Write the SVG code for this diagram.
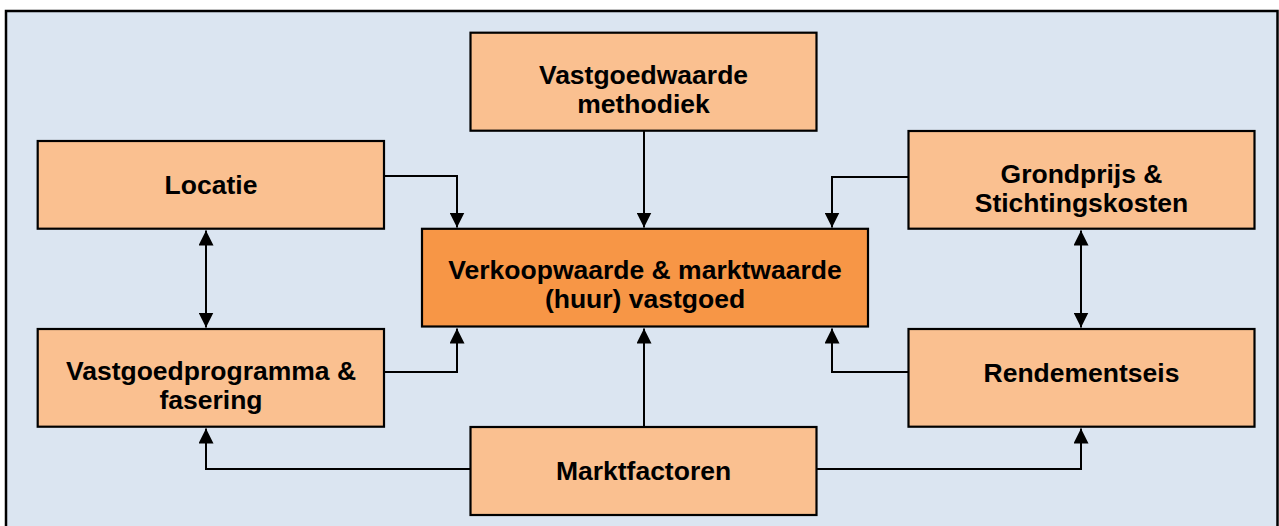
<svg xmlns="http://www.w3.org/2000/svg" width="1279" height="526" viewBox="0 0 1279 526">
<style>
.frame{fill:#DBE5F1;stroke:#000;stroke-width:2.5}
.box{fill:#FAC090;stroke:#000;stroke-width:2.2}
.main{fill:#F79646;stroke:#000;stroke-width:2.2}
.t{font-family:"Liberation Sans",Arial,sans-serif;font-weight:bold;font-size:26.5px;fill:#000;text-anchor:middle}
.c{fill:none;stroke:#000;stroke-width:2}
</style>
<defs>
<marker id="ah" markerUnits="userSpaceOnUse" markerWidth="15" markerHeight="15" refX="15" refY="7.5" orient="auto-start-reverse" viewBox="0 0 15 15">
<path d="M0,0 L15,7.5 L0,15 z" fill="#000"/>
</marker>
</defs>
<rect x="0" y="0" width="1279" height="526" fill="#fff"/>
<rect class="frame" x="6" y="11" width="1271.5" height="540"/>
<g id="connectors">
<path class="c" d="M384,176 H457 V227.5" marker-end="url(#ah)"/>
<path class="c" d="M644,131 V227.5" marker-end="url(#ah)"/>
<path class="c" d="M908,177 H832 V227.5" marker-end="url(#ah)"/>
<path class="c" d="M206,230.5 V327.5" marker-start="url(#ah)" marker-end="url(#ah)"/>
<path class="c" d="M1081,230.5 V327.5" marker-start="url(#ah)" marker-end="url(#ah)"/>
<path class="c" d="M384,372 H457 V328.5" marker-end="url(#ah)"/>
<path class="c" d="M908,372 H832 V328.5" marker-end="url(#ah)"/>
<path class="c" d="M644,427 V328.5" marker-end="url(#ah)"/>
<path class="c" d="M470,469 H206 V428.5" marker-end="url(#ah)"/>
<path class="c" d="M817,469 H1081 V428.5" marker-end="url(#ah)"/>
</g>
<g id="n-methodiek">
<rect class="box" x="470.5" y="32.7" width="346" height="98"/>
<text class="t" x="643.5" y="84">Vastgoedwaarde</text>
<text class="t" x="643.5" y="113">methodiek</text>
</g>
<g id="n-locatie">
<rect class="box" x="37.7" y="141" width="346.3" height="87.7"/>
<text class="t" x="211" y="194">Locatie</text>
</g>
<g id="n-grondprijs">
<rect class="box" x="908.5" y="131" width="346" height="97.7"/>
<text class="t" x="1081.5" y="183">Grondprijs &amp;</text>
<text class="t" x="1081.5" y="212">Stichtingskosten</text>
</g>
<g id="n-center">
<rect class="main" x="422" y="228.8" width="446" height="97.7"/>
<text class="t" x="645" y="279">Verkoopwaarde &amp; marktwaarde</text>
<text class="t" x="645" y="308">(huur) vastgoed</text>
</g>
<g id="n-programma">
<rect class="box" x="37.7" y="329" width="346.3" height="97.7"/>
<text class="t" x="211" y="380">Vastgoedprogramma &amp;</text>
<text class="t" x="211" y="409">fasering</text>
</g>
<g id="n-rendement">
<rect class="box" x="908.5" y="329" width="346" height="97.7"/>
<text class="t" x="1081.5" y="382">Rendementseis</text>
</g>
<g id="n-markt">
<rect class="box" x="470.5" y="427" width="346" height="88"/>
<text class="t" x="643.5" y="480">Marktfactoren</text>
</g>
</svg>
